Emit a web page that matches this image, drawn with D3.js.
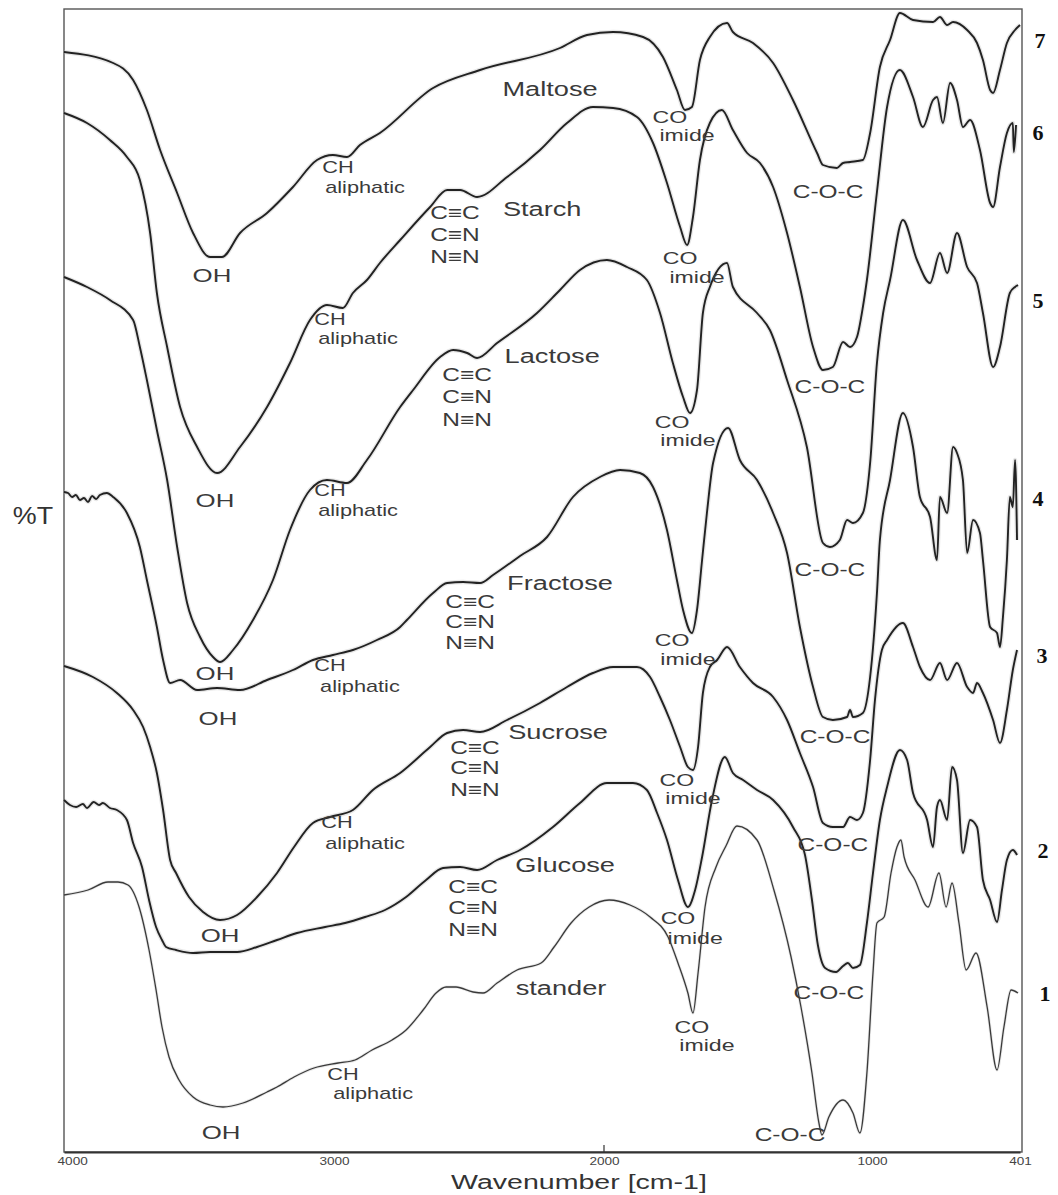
<!DOCTYPE html>
<html><head><meta charset="utf-8">
<script src="https://cdn.jsdelivr.net/npm/d3@7"></script>
<style>body{margin:0;background:#fff} svg{display:block}</style>
</head><body><svg id="chart" width="1058" height="1195"></svg>
<script>
// ---- data (wavenumber cm-1, %T in arbitrary offset units) ----
const xTicks = [4000, 3000, 2000, 1000, 401];

const maltose = [[4000,1100],[3818,1089],[3744,1072],[3693,1042],[3644,1002],[3581,959],[3522,919],[3459,895],[3415,895],[3348,919],[3248,939],[3152,965],[3063,992],[3004,997],[2952,995],[2904,1007],[2830,1019],[2633,1064],[2459,1082],[2163,1104],[2063,1117],[1966,1120],[1854,1115],[1780,1095],[1728,1062],[1698,1042],[1672,1045],[1642,1092],[1605,1115],[1541,1129],[1519,1120],[1444,1109],[1369,1089],[1295,1052],[1205,999],[1183,987],[1131,984],[1108,989],[1082,990],[1034,992],[1007,1019],[968,1085],[927,1112],[887,1139],[834,1132],[753,1130],[725,1135],[696,1127],[672,1130],[615,1122],[575,1109],[551,1092],[522,1062],[510,1059],[482,1082],[454,1109],[421,1122],[401,1127]];

const starch = [[4000,1039],[3915,1029],[3830,1012],[3767,995],[3719,972],[3681,919],[3656,859],[3618,805],[3570,745],[3507,705],[3433,679],[3348,705],[3248,745],[3163,789],[3089,832],[3026,847],[2967,844],[2930,859],[2878,872],[2830,889],[2755,912],[2644,945],[2581,962],[2533,962],[2470,955],[2359,975],[2237,1002],[2137,1029],[2041,1045],[1966,1044],[1877,1035],[1817,1009],[1765,969],[1716,925],[1690,907],[1668,935],[1642,992],[1605,1029],[1560,1042],[1519,1022],[1466,999],[1418,989],[1369,965],[1317,919],[1269,865],[1220,805],[1183,782],[1146,785],[1108,810],[1082,805],[1056,815],[1034,845],[1019,872],[980,960],[939,1045],[887,1082],[834,1055],[794,1025],[753,1052],[737,1055],[713,1029],[684,1069],[656,1052],[632,1025],[603,1032],[563,1002],[522,949],[510,945],[482,985],[454,1019],[430,1029],[426,1000],[417,1027]];

const lactose = [[4000,875],[3915,865],[3830,852],[3744,832],[3719,805],[3693,772],[3656,722],[3618,672],[3581,605],[3544,549],[3496,515],[3448,495],[3422,490],[3374,502],[3300,532],[3226,572],[3163,622],[3089,662],[3026,672],[2952,669],[2878,692],[2755,745],[2707,762],[2607,795],[2559,802],[2507,799],[2470,794],[2396,809],[2248,839],[2163,862],[2089,882],[1989,892],[1914,885],[1840,872],[1791,839],[1743,789],[1705,755],[1679,739],[1653,762],[1631,839],[1605,865],[1541,889],[1519,865],[1429,839],[1381,822],[1317,772],[1243,705],[1183,609],[1157,605],[1120,612],[1093,632],[1071,629],[1034,639],[1007,689],[980,789],[955,839],[927,872],[875,932],[818,892],[765,869],[725,899],[696,879],[656,919],[615,885],[575,869],[551,839],[510,785],[482,805],[442,859],[421,865],[409,867]];

const fructose = [[4000,660],[3985,659],[3970,655],[3956,657],[3941,652],[3926,654],[3911,650],[3896,656],[3881,653],[3867,657],[3841,659],[3818,655],[3767,639],[3719,605],[3693,572],[3656,525],[3633,492],[3607,469],[3570,472],[3507,462],[3433,464],[3348,462],[3248,472],[3152,482],[3078,492],[3004,497],[2930,502],[2841,512],[2755,525],[2730,532],[2633,559],[2581,569],[2522,570],[2459,569],[2411,577],[2311,596],[2211,615],[2115,655],[2015,675],[1940,682],[1866,679],[1817,665],[1765,622],[1728,572],[1705,542],[1672,519],[1653,542],[1634,592],[1616,639],[1593,689],[1537,724],[1493,692],[1429,672],[1369,639],[1317,599],[1269,525],[1220,465],[1183,435],[1146,432],[1093,435],[1082,442],[1071,435],[1034,439],[1007,475],[980,559],[968,612],[927,672],[875,739],[834,705],[806,655],[765,635],[737,592],[725,655],[696,639],[672,705],[656,699],[632,672],[615,599],[591,632],[563,619],[551,592],[522,525],[494,519],[482,505],[470,535],[454,592],[442,655],[430,645],[421,692],[413,612]];

const sucrose = [[4000,486],[3893,475],[3804,459],[3744,442],[3707,425],[3681,405],[3656,379],[3633,342],[3607,292],[3585,279],[3537,255],[3485,240],[3422,232],[3359,237],[3285,255],[3211,279],[3148,305],[3078,329],[3015,335],[2930,342],[2856,362],[2755,379],[2644,405],[2581,419],[2522,422],[2459,420],[2359,432],[2237,449],[2137,465],[2041,479],[1966,485],[1877,485],[1828,475],[1791,455],[1754,432],[1716,405],[1687,385],[1668,382],[1649,405],[1631,459],[1605,485],[1578,492],[1541,505],[1493,485],[1444,469],[1369,455],[1317,432],[1269,399],[1220,365],[1183,329],[1146,325],[1108,325],[1082,335],[1056,332],[1034,339],[1007,392],[988,452],[960,502],[939,512],[875,529],[834,505],[806,485],[765,472],[725,489],[696,472],[656,489],[615,465],[591,459],[575,469],[551,459],[510,432],[482,409],[454,442],[430,482],[413,502]];

const glucose = [[4000,352],[3978,347],[3955,345],[3930,348],[3915,344],[3890,350],[3870,347],[3856,349],[3830,344],[3804,342],[3767,332],[3744,309],[3711,285],[3685,252],[3659,225],[3637,212],[3622,205],[3585,202],[3522,199],[3459,200],[3359,200],[3285,205],[3211,212],[3137,219],[3033,225],[2959,229],[2885,235],[2811,242],[2733,255],[2659,272],[2596,284],[2533,285],[2470,282],[2396,292],[2311,302],[2189,325],[2089,349],[1989,369],[1892,369],[1840,362],[1802,339],[1765,312],[1724,272],[1687,245],[1660,262],[1634,295],[1597,352],[1549,395],[1519,379],[1481,372],[1429,362],[1369,352],[1295,325],[1250,297],[1224,252],[1202,207],[1175,184],[1134,180],[1108,186],[1090,189],[1071,184],[1045,187],[1019,229],[996,279],[968,332],[939,365],[887,402],[858,392],[834,359],[777,332],[753,305],[737,345],[725,352],[696,332],[676,385],[656,372],[632,299],[603,332],[575,325],[551,272],[522,252],[494,230],[474,262],[454,292],[430,302],[413,297]];

const stander = [[4000,257],[3911,262],[3837,270],[3800,270],[3763,267],[3722,245],[3685,202],[3659,162],[3637,125],[3611,95],[3574,72],[3522,55],[3459,47],[3411,45],[3337,49],[3248,60],[3211,65],[3148,75],[3074,84],[2985,89],[2922,92],[2859,102],[2785,112],[2733,122],[2670,142],[2622,159],[2585,165],[2548,165],[2485,160],[2448,159],[2396,169],[2322,182],[2233,189],[2185,205],[2122,229],[2055,245],[1981,252],[1903,247],[1828,235],[1761,215],[1724,189],[1687,159],[1668,139],[1649,179],[1623,245],[1582,285],[1545,306],[1504,326],[1429,312],[1366,262],[1302,195],[1265,145],[1224,79],[1198,29],[1187,17],[1161,35],[1108,52],[1071,39],[1045,19],[1019,79],[996,179],[980,229],[951,235],[923,279],[899,305],[883,312],[870,295],[826,272],[773,245],[729,279],[700,245],[676,269],[648,229],[619,182],[579,199],[534,145],[494,82],[466,125],[437,162],[409,159]];

const curveNumbers = ["7","6","5","4","3","2","1"];
const numberPos = [[320,1112],[328,1020],[328,852],[328,654],[312,497],[308,302],[300,159]];

const annotations = [
 ["OH",3452,877,"oh"],["CH",2985,984,"ch"],["aliphatic",2885,964,"ch"],["Maltose",2200,1063,"name"],["CO",1754,1035,"co"],["imide",1690,1017,"co"],["C-O-C",1164,960,"coc"],
 ["OH",3441,652,"oh"],["CH",3015,832,"ch"],["aliphatic",2911,813,"ch"],["C≡C",2552,939,"bond"],["C≡N",2552,917,"bond"],["N≡N",2552,895,"bond"],["Starch",2229,943,"name"],["CO",1716,894,"co"],["imide",1653,875,"co"],["C-O-C",1157,765,"coc"],
 ["OH",3441,479,"oh"],["CH",3015,661,"ch"],["aliphatic",2911,641,"ch"],["C≡C",2507,777,"bond"],["C≡N",2507,755,"bond"],["N≡N",2507,732,"bond"],["Lactose",2192,796,"name"],["CO",1746,730,"co"],["imide",1687,712,"co"],["C-O-C",1157,582,"coc"],
 ["OH",3430,434,"oh"],["CH",3015,486,"ch"],["aliphatic",2904,465,"ch"],["C≡C",2496,550,"bond"],["C≡N",2496,530,"bond"],["N≡N",2496,509,"bond"],["Fractose",2163,569,"name"],["CO",1746,512,"co"],["imide",1687,493,"co"],["C-O-C",1138,415,"coc"],
 ["OH",3422,217,"oh"],["CH",2989,329,"ch"],["aliphatic",2885,308,"ch"],["C≡C",2478,404,"bond"],["C≡N",2478,384,"bond"],["N≡N",2478,362,"bond"],["Sucrose",2170,420,"name"],["CO",1728,372,"co"],["imide",1668,354,"co"],["C-O-C",1146,307,"coc"],
 ["C≡C",2485,265,"bond"],["C≡N",2485,244,"bond"],["N≡N",2485,222,"bond"],["Glucose",2144,287,"name"],["CO",1724,234,"co"],["imide",1660,214,"co"],["C-O-C",1161,159,"coc"],
 ["OH",3418,20,"oh"],["CH",2967,77,"ch"],["aliphatic",2855,58,"ch"],["stander",2159,164,"name"],["CO",1672,125,"co"],["imide",1616,107,"co"],["C-O-C",1306,17,"coc"]
];

// ---- chart ----
const series = [maltose, starch, lactose, fructose, sucrose, glucose, stander];
const svg = d3.select("#chart");
svg.append("rect").attr("width",1058).attr("height",1195).attr("fill","#fff");

const x = d3.scaleLinear().domain([4000,2000,1000,401]).range([64,604,872,1020]);
const y = d3.scaleLinear().domain([0,1140]).range([1152,12]);

const FONT = "'Liberation Sans', Arial, sans-serif";
const sizes = {name:20, oh:19, ch:16, co:17, bond:18, coc:18};
const SX = 1.36;

// frame
svg.append("rect")
  .attr("x", x(4000)).attr("y", y(1143))
  .attr("width", x(401) + 2 - x(4000)).attr("height", y(0) - y(1143))
  .attr("fill","none").attr("stroke","#555").attr("stroke-width",1.4);

// x axis labels
const axis = d3.axisBottom(x).tickValues(xTicks).tickSize(0).tickPadding(6)
  .tickFormat(d3.format("d"));
const gAx = svg.append("g").attr("transform",`translate(0,${y(0)})`).call(axis);
gAx.select(".domain").attr("stroke","#333").attr("stroke-width",2);
gAx.selectAll("text").attr("font-family",FONT).attr("font-size",10).attr("fill","#444")
  .attr("transform",`scale(${SX},1)`).attr("x",0);
gAx.selectAll(".tick").filter(d=>d===4000).select("text").attr("dx",6);
svg.append("line").attr("x1",x(2000)).attr("x2",x(2000)).attr("y1",y(0)).attr("y2",y(7))
  .attr("stroke","#333").attr("stroke-width",1.2);

svg.append("text").attr("transform",`translate(579,1189) scale(${SX},1)`)
  .attr("text-anchor","middle").attr("font-family",FONT).attr("font-size",21).attr("fill","#333")
  .text("Wavenumber [cm-1]");
svg.append("text").attr("transform",`translate(33,524) scale(1.12,1)`)
  .attr("text-anchor","middle").attr("font-family",FONT).attr("font-size",24).attr("fill","#333")
  .text("%T");

// curves
const line = d3.line().x(d=>x(d[0])).y(d=>y(d[1])).curve(d3.curveMonotoneX);
const gC = svg.append("g");
series.forEach((s,i)=>{
  const last = i === series.length-1;
  gC.append("path").datum(s).attr("d",line).attr("fill","none")
    .attr("stroke","#bbb").attr("stroke-opacity",0.35).attr("stroke-width", last?3:4.5);
  gC.append("path").datum(s).attr("d",line).attr("fill","none")
    .attr("stroke", last ? "#3a3a3a" : "#222")
    .attr("stroke-width", last ? 1.3 : 1.9)
    .attr("stroke-linejoin","round");
});

// annotations
svg.append("g").selectAll("text").data(annotations).join("text")
  .attr("transform",d=>`translate(${x(d[1])},${y(d[2])}) scale(${SX},1)`)
  .attr("text-anchor","middle").attr("dominant-baseline","central")
  .attr("font-family",FONT).attr("font-size",d=>sizes[d[3]]).attr("fill","#3a3a3a")
  .text(d=>d[0]);

// curve numbers
svg.append("g").selectAll("text").data(curveNumbers).join("text")
  .attr("x",(d,i)=>x(numberPos[i][0])).attr("y",(d,i)=>y(numberPos[i][1]))
  .attr("text-anchor","middle").attr("dominant-baseline","central")
  .attr("font-family","'Liberation Serif','Times New Roman',serif").attr("font-weight","bold")
  .attr("font-size",22).attr("fill","#111").text(d=>d);
</script></body></html>
